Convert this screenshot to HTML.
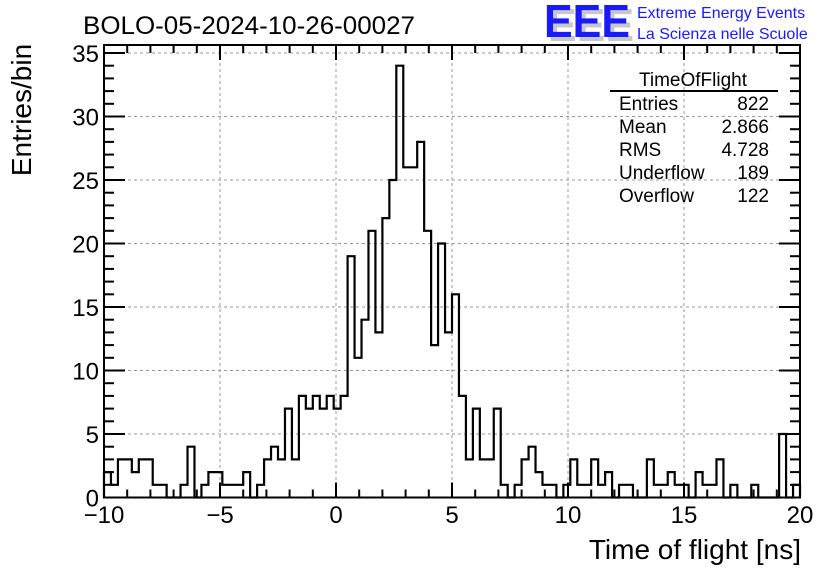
<!DOCTYPE html>
<html><head><meta charset="utf-8"><style>
html,body{margin:0;padding:0;background:#fff;}
svg{display:block;font-family:"Liberation Sans",Arial,sans-serif;}
</style></head><body>
<svg id="chart" width="836" height="572" viewBox="0 0 836 572">
<rect x="0" y="0" width="836" height="572" fill="#fff"/>
<g id="grid"></g>
<g id="hist"></g>
<g id="axes"></g>
<text x="249" y="34" font-size="25" text-anchor="middle" textLength="332" lengthAdjust="spacingAndGlyphs">BOLO-05-2024-10-26-00027</text>
<text transform="translate(31,110) rotate(-90)" font-size="28" text-anchor="middle">Entries/bin</text>
<text x="801" y="559" font-size="28" text-anchor="end">Time of flight [ns]</text>
<g>
<text x="548" y="41" font-size="46" fill="#c8c8c8" font-weight="bold" textLength="86" lengthAdjust="spacingAndGlyphs">EEE</text>
<text x="544" y="37" font-size="46" fill="#1a1aff" font-weight="bold" textLength="86" lengthAdjust="spacingAndGlyphs">EEE</text>
<text x="637" y="18" font-size="16" fill="#1a1aff">Extreme Energy Events</text>
<text x="637" y="39" font-size="16" fill="#1a1aff">La Scienza nelle Scuole</text>
</g>
<g font-size="19">
<text x="693" y="86" text-anchor="middle">TimeOfFlight</text>
<line x1="610" y1="91" x2="778" y2="91" stroke="#000" stroke-width="2"/>
<text x="619" y="110">Entries</text><text x="769" y="110" text-anchor="end">822</text>
<text x="619" y="133">Mean</text><text x="769" y="133" text-anchor="end">2.866</text>
<text x="619" y="156">RMS</text><text x="769" y="156" text-anchor="end">4.728</text>
<text x="619" y="179">Underflow</text><text x="769" y="179" text-anchor="end">189</text>
<text x="619" y="202">Overflow</text><text x="769" y="202" text-anchor="end">122</text>
</g>
</svg>
<script>
const binCounts = [2,1,3,3,2,3,3,1,1,0, 0,1,4,0,1,2,2,1,1,1, 2,0,1,3,4,3,7,3,8,7, 8,7,8,7,8,19,11,14,21,13, 22,25,34,26,26,28,21,12,20,13, 16,8,3,7,3,3,7,1,0,1, 3,4,2,1,1,0,1,3,1,1, 3,1,2,0,1,1,0,0,3,1, 1,2,1,1,0,2,1,1,3,0, 1,0,0,1,0,0,0,5,0,1];
const xRange = [-10, 20];
const yRange = [0, 35.63];
const xTickLabels = [-10, -5, 0, 5, 10, 15, 20];
const yTickLabels = [0, 5, 10, 15, 20, 25, 30, 35];

const L=104, R=800, T=45, B=497.5;
const NS='http://www.w3.org/2000/svg';
function xs(v){return L+(v-xRange[0])/(xRange[1]-xRange[0])*(R-L);}
function ys(v){return B-(v-yRange[0])/(yRange[1]-yRange[0])*(B-T);}
function mk(tag,attrs,parent){const e=document.createElementNS(NS,tag);for(const k in attrs)e.setAttribute(k,attrs[k]);parent.appendChild(e);return e;}
const grid=document.getElementById('grid'), hist=document.getElementById('hist'), axes=document.getElementById('axes');
xTickLabels.forEach(v=>{if(v>xRange[0]&&v<xRange[1]){const g=mk('line',{x1:xs(v),x2:xs(v),y1:T,y2:B,stroke:'#999','stroke-dasharray':'3,3','stroke-width':1},grid);

}});
yTickLabels.forEach(v=>{if(v>0){const g=mk('line',{x1:L,x2:R,y1:ys(v),y2:ys(v),stroke:'#999','stroke-dasharray':'3,3','stroke-width':1},grid);

}});
const w=(xRange[1]-xRange[0])/binCounts.length;
let d='M'+xs(xRange[0])+','+ys(0);
binCounts.forEach((c,i)=>{const x0=xs(xRange[0]+i*w), x1=xs(xRange[0]+(i+1)*w);d+=' L'+x0+','+ys(c)+' L'+x1+','+ys(c);});
d+=' L'+xs(xRange[1])+','+ys(0);
const p=mk('path',{d:d,fill:'none',stroke:'#000','stroke-width':2.2},hist);


const fr=mk('rect',{x:L,y:T,width:R-L,height:B-T,fill:'none',stroke:'#000','stroke-width':2},axes);


for(let v=xRange[0];v<=xRange[1];v++){const major=(v%5===0);const len=major?15:8;
mk('line',{x1:xs(v),x2:xs(v),y1:B,y2:B-len,stroke:'#000','stroke-width':2},axes);
mk('line',{x1:xs(v),x2:xs(v),y1:T,y2:T+len,stroke:'#000','stroke-width':2},axes);}
xTickLabels.forEach(v=>{const t=mk('text',{x:xs(v),y:523,'font-size':24,'text-anchor':'middle'},axes);t.textContent=(v<0?'\u2212'+Math.abs(v):String(v));

});
for(let v=0;v<=35;v++){const major=(v%5===0);const len=major?21:10;
mk('line',{x1:L,x2:L+len,y1:ys(v),y2:ys(v),stroke:'#000','stroke-width':2},axes);
mk('line',{x1:R,x2:R-len,y1:ys(v),y2:ys(v),stroke:'#000','stroke-width':2},axes);}
yTickLabels.forEach(v=>{const t=mk('text',{x:99,y:ys(v)+9,'font-size':24,'text-anchor':'end'},axes);t.textContent=String(v);

});
</script>
</body></html>
